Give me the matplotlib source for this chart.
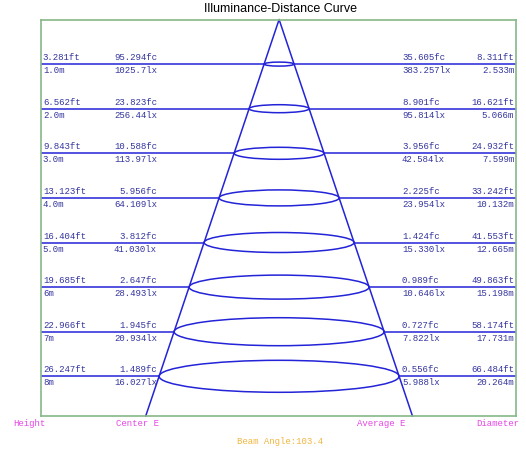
import matplotlib
matplotlib.use("Agg")
import matplotlib.pyplot as plt
from matplotlib.patches import Ellipse
from matplotlib.transforms import blended_transform_factory, offset_copy

# ---- data ----
distance_m = [1, 2, 3, 4, 5, 6, 7, 8]
height_ft = ["3.281ft", "6.562ft", "9.843ft", "13.123ft", "16.404ft", "19.685ft", "22.966ft", "26.247ft"]
height_m = ["1.0m", "2.0m", "3.0m", "4.0m", "5.0m", "6m", "7m", "8m"]
center_fc = ["95.294fc", "23.823fc", "10.588fc", "5.956fc", "3.812fc", "2.647fc", "1.945fc", "1.489fc"]
center_lx = ["1025.7lx", "256.44lx", "113.97lx", "64.109lx", "41.030lx", "28.493lx", "20.934lx", "16.027lx"]
avg_fc = ["35.605fc", "8.901fc", "3.956fc", "2.225fc", "1.424fc", "0.989fc", "0.727fc", "0.556fc"]
avg_lx = ["383.257lx", "95.814lx", "42.584lx", "23.954lx", "15.330lx", "10.646lx", "7.822lx", "5.988lx"]
diam_ft = ["8.311ft", "16.621ft", "24.932ft", "33.242ft", "41.553ft", "49.863ft", "58.174ft", "66.484ft"]
diam_m = [2.533, 5.066, 7.599, 10.132, 12.665, 15.198, 17.731, 20.264]
beam_angle = 103.4

# ---- style ----
W, H = 526, 450
LINE = "#2323d8"
TXT = "#34349f"
BORDER = "#88b888"
MAG = "#e646e6"
ORG = "#f2b640"
MONO = ["Liberation Mono", "DejaVu Sans Mono"]
FS = 6.5
ELL_RATIO = 0.0354  # ellipse height (y units) per diameter metre

fig = plt.figure(figsize=(W / 100, H / 100), dpi=100)
ax_l, ax_r, ax_t, ax_b = 41, 516, 19.5, 416
ax = fig.add_axes([ax_l / W, 1 - ax_b / H, (ax_r - ax_l) / W, (ax_b - ax_t) / H])
for s in ax.spines.values():
    s.set_color(BORDER)
    s.set_linewidth(1.2)
ax.set_xticks([])
ax.set_yticks([])

xmin, xmax = -20.1, 20.0
ymax = 8.89
ax.set_xlim(xmin, xmax)
ax.set_ylim(ymax, 0)

slope = diam_m[0] / 2 / distance_m[0]
ax.plot([-slope * ymax, 0, slope * ymax], [ymax, 0, ymax], color=LINE, lw=1.1, clip_on=False)

for d, dm in zip(distance_m, diam_m):
    r = dm / 2
    ax.plot([xmin, -r], [d, d], color=LINE, lw=1.1)
    ax.plot([r, xmax], [d, d], color=LINE, lw=1.1)
    ax.add_patch(Ellipse((0, d), dm, dm * ELL_RATIO, fill=False, ec=LINE, lw=1.1))

bt = blended_transform_factory(ax.transAxes, ax.transData)
up = offset_copy(bt, fig=fig, x=0, y=2, units="dots")
dn = offset_copy(bt, fig=fig, x=0, y=-2, units="dots")

cols = [
    (0.004, "left", height_ft, height_m),
    (0.244, "right", center_fc, center_lx),
    (0.760, "left", avg_fc, avg_lx),
    (0.996, "right", diam_ft, [f"{v:.3f}m" for v in diam_m]),
]
for xf, ha, top, bot in cols:
    for d, a, b in zip(distance_m, top, bot):
        ax.text(xf, d, a, transform=up, ha=ha, va="bottom", fontsize=FS, color=TXT, family=MONO)
        ax.text(xf, d, b, transform=dn, ha=ha, va="top", fontsize=FS, color=TXT, family=MONO)

fig.text(281 / W, 1 - 8.5 / H, "Illuminance-Distance Curve", ha="center", va="center",
         fontsize=9, family="Liberation Sans", color="black")

def ftext(x, y, s, color, ha="center"):
    fig.text(x / W, 1 - y / H, s, ha=ha, va="center", fontsize=FS, color=color, family=MONO)

ftext(13, 423, "Height", MAG, ha="left")
ftext(137, 423, "Center E", MAG)
ftext(381, 423, "Average E", MAG)
ftext(519, 423, "Diameter", MAG, ha="right")
ftext(280, 441, f"Beam Angle:{beam_angle}", ORG)

fig.savefig("out.png", dpi=100)
